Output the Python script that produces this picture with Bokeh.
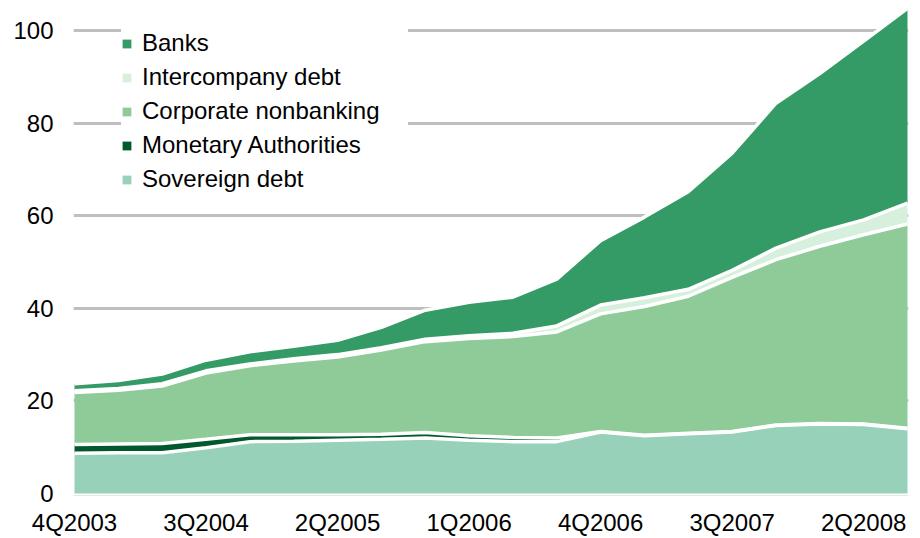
from bokeh.plotting import figure
from bokeh.models import ColumnDataSource, Range1d, FixedTicker, Legend, LegendItem
from bokeh.embed import file_html
from bokeh.resources import INLINE

quarters = ["4Q2003", "1Q2004", "2Q2004", "3Q2004", "4Q2004", "1Q2005", "2Q2005",
            "3Q2005", "4Q2005", "1Q2006", "2Q2006", "3Q2006", "4Q2006", "1Q2007",
            "2Q2007", "3Q2007", "4Q2007", "1Q2008", "2Q2008", "3Q2008"]
sovereign = [8.7, 8.8, 8.8, 9.9, 11.2, 11.3, 11.5, 11.7, 12.0, 11.5,
             11.2, 11.2, 13.3, 12.5, 12.9, 13.3, 14.7, 15.0, 14.9, 14.0]
monetary = [1.9, 1.9, 2.0, 1.8, 1.5, 1.4, 1.2, 1.1, 1.2, 1.0,
            0.9, 0.8, 0.1, 0.1, 0.1, 0.1, 0.1, 0.1, 0.1, 0.1]
corporate = [11.2, 11.6, 12.4, 14.3, 14.9, 15.9, 16.8, 18.2, 19.6, 21.0,
             21.8, 22.9, 25.4, 27.8, 29.6, 33.3, 35.7, 38.3, 40.9, 44.1]
intercompany = [0.4, 0.4, 0.5, 0.5, 0.4, 0.5, 0.5, 0.5, 0.5, 0.6,
                 0.7, 1.3, 1.9, 1.9, 1.5, 1.5, 2.5, 3.1, 3.2, 4.5]
banks = [1.5, 1.7, 2.1, 2.3, 2.6, 2.7, 3.1, 4.4, 6.3, 7.2,
         7.8, 10.1, 13.9, 17.4, 21.1, 25.3, 31.3, 34.2, 38.6, 42.1]

series_names = ["Sovereign debt", "Monetary Authorities", "Corporate nonbanking",
                "Intercompany debt", "Banks"]
series_keys = ["sov", "mon", "corp", "inter", "banks"]
colors = ["#97d1b9", "#00582c", "#8ecb99", "#d7f0de", "#359b66"]
y_ticks = [0, 20, 40, 60, 80, 100]
x_tick_idx = list(range(0, len(quarters), 3))

source = ColumnDataSource(dict(
    x=list(range(len(quarters))),
    sov=sovereign, mon=monetary, corp=corporate, inter=intercompany, banks=banks,
))

FONT = "Liberation Sans"
FS = "24px"

p = figure(width=920, height=538, output_backend="svg", toolbar_location=None,
           x_range=Range1d(-0.023, 19.023), y_range=Range1d(-0.43, 105.4),
           min_border_left=73, min_border_right=12, min_border_top=5,
           min_border_bottom=40)
p.outline_line_color = None
p.background_fill_color = "white"
p.border_fill_color = "white"

areas = p.varea_stack(series_keys, x="x", source=source, color=colors)
p.vline_stack(series_keys, x="x", source=source, line_color="white", line_width=3.5)

# grid
p.xgrid.visible = False
p.ygrid.ticker = FixedTicker(ticks=y_ticks[1:])
p.ygrid.grid_line_color = "#bfbfbf"
p.ygrid.grid_line_width = 3

# y axis
p.yaxis.ticker = FixedTicker(ticks=y_ticks)
p.yaxis.axis_line_color = None
p.yaxis.major_tick_line_color = None
p.yaxis.minor_tick_line_color = None
p.yaxis.major_tick_out = 0
p.yaxis.major_tick_in = 0
p.yaxis.minor_tick_out = 0
p.yaxis.major_label_standoff = 20
p.yaxis.major_label_text_font = FONT
p.yaxis.major_label_text_font_size = FS
p.yaxis.major_label_text_color = "#000000"

# x axis
p.xaxis.ticker = FixedTicker(ticks=x_tick_idx)
p.xaxis.major_label_overrides = {i: quarters[i] for i in x_tick_idx}
p.xaxis.axis_line_color = "#e6e6e6"
p.xaxis.axis_line_width = 1
p.xaxis.major_tick_line_color = None
p.xaxis.minor_tick_line_color = None
p.xaxis.major_tick_out = 0
p.xaxis.major_tick_in = 0
p.xaxis.minor_tick_out = 0
p.xaxis.major_label_standoff = 13
p.xaxis.major_label_text_font = FONT
p.xaxis.major_label_text_font_size = FS
p.xaxis.major_label_text_color = "#000000"

items = [LegendItem(label=series_names[i], renderers=[areas[i]]) for i in reversed(range(5))]
legend = Legend(items=items, location=(48, 302), orientation="vertical",
                background_fill_color="white", background_fill_alpha=1.0,
                border_line_color=None, padding=8, spacing=6,
                glyph_width=11, glyph_height=11, label_height=27,
                label_width=266, label_standoff=10,
                label_text_font=FONT, label_text_font_size=FS,
                label_text_color="#000000")
p.add_layout(legend)

open("out.html", "w").write(file_html(p, INLINE))
